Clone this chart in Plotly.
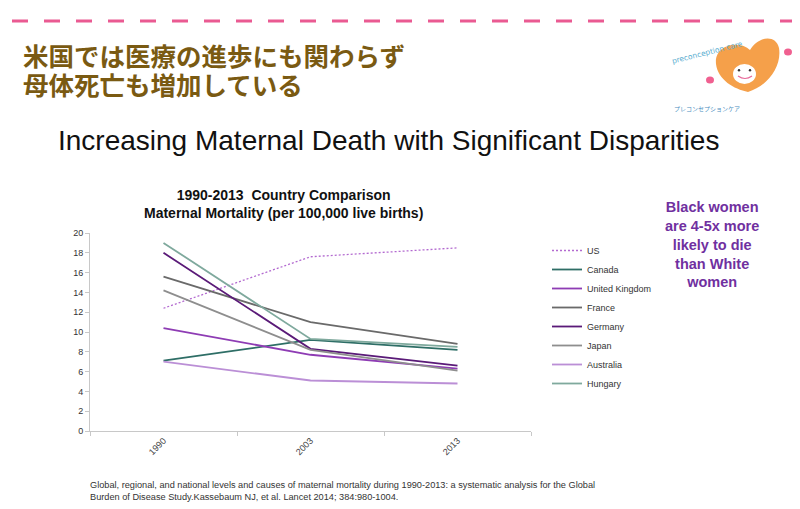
import plotly.graph_objects as go

years = ["1990", "2003", "2013"]
countries = ["US", "Canada", "United Kingdom", "France", "Germany", "Japan", "Australia", "Hungary"]
us = [12.4, 17.6, 18.5]
canada = [7.1, 9.2, 8.2]
uk = [10.4, 7.7, 6.3]
france = [15.6, 11.0, 8.8]
germany = [18.0, 8.3, 6.6]
japan = [14.2, 8.2, 6.1]
australia = [7.0, 5.1, 4.8]
hungary = [19.0, 9.3, 8.5]
series = [us, canada, uk, france, germany, japan, australia, hungary]
colors = ["#b36ad0", "#2e6e66", "#8e3cb4", "#6a6a6a", "#5a1a78", "#8e8e8e", "#bb8fd6", "#7fa99d"]
dashes = ["2px,2px", "solid", "solid", "solid", "solid", "solid", "solid", "solid"]
y_ticks = list(range(0, 21, 2))
jp_title = ["米国では医療の進歩にも関わらず", "母体死亡も増加している"]

W, H = 800, 509
PL, PR, PT, PB = 90, 531, 233, 431


def px(x):
    return (x - PL) / (PR - PL)


def py(y):
    return (PB - y) / (PB - PT)


fig = go.Figure()
for name, vals, col, dash in zip(countries, series, colors, dashes):
    fig.add_trace(go.Scatter(
        x=years, y=vals, name=name, mode="lines",
        line=dict(color=col, width=1.3 if dash != "solid" else 1.8, dash=dash),
        legendgroup=name,
    ))

shapes = []
# pink dashed header line
shapes.append(dict(type="line", xref="paper", yref="paper",
                   x0=px(12), x1=px(792), y0=py(21), y1=py(21),
                   line=dict(color="#ea5a92", width=3, dash="16px,16px")))


def path_from(points):
    out = "M {},{} ".format(px(points[0][0]), py(points[0][1]))
    for i in range(1, len(points), 3):
        a, b, c = points[i], points[i + 1], points[i + 2]
        out += "C {},{} {},{} {},{} ".format(px(a[0]), py(a[1]), px(b[0]), py(b[1]), px(c[0]), py(c[1]))
    return out + "Z"


heart = [(750, 50),
         (740, 40), (714, 44), (716, 64),
         (718, 80), (734, 89), (748, 92),
         (768, 86), (782, 66), (779, 48),
         (776, 34), (758, 36), (750, 50)]
shapes.append(dict(type="path", xref="paper", yref="paper", path=path_from(heart),
                   fillcolor="#f5a04a", line=dict(width=0)))
shapes.append(dict(type="circle", xref="paper", yref="paper",
                   x0=px(733), x1=px(756), y0=py(84), y1=py(64),
                   fillcolor="white", line=dict(width=0)))
for cx in (739, 750):
    shapes.append(dict(type="circle", xref="paper", yref="paper",
                       x0=px(cx - 1.2), x1=px(cx + 1.2), y0=py(71.5), y1=py(69),
                       fillcolor="#333", line=dict(width=0)))
shapes.append(dict(type="path", xref="paper", yref="paper",
                   path="M {},{} Q {},{} {},{}".format(px(738), py(76), px(745), py(81), px(752), py(76)),
                   line=dict(color="#e86a9a", width=1.2)))
for cx, cy in ((710, 80), (788, 52)):
    shapes.append(dict(type="circle", xref="paper", yref="paper",
                       x0=px(cx - 4), x1=px(cx + 4), y0=py(cy + 3.5), y1=py(cy - 3.5),
                       fillcolor="#f06090", line=dict(width=0)))

annotations = []
for line_txt, cy in zip(jp_title, (54, 83)):
    annotations.append(dict(text=line_txt,
                            xref="paper", yref="paper", x=px(21), y=py(cy),
                            xanchor="left", yanchor="middle", align="left", showarrow=False,
                            font=dict(family="Noto Sans CJK JP", size=25.5, color="#7a5a12", weight="bold")))
annotations.append(dict(text="preconception care", xref="paper", yref="paper",
                        x=px(746), y=py(37), showarrow=False, textangle=-14,
                        font=dict(family="DejaVu Sans", size=7.5, color="#5aaed0")))
annotations.append(dict(text="プレコンセプションケア", xref="paper", yref="paper",
                        x=px(742), y=py(102), showarrow=False,
                        font=dict(family="Noto Sans CJK JP", size=6, color="#4a8ec0")))
annotations.append(dict(text="Increasing Maternal Death with Significant Disparities",
                        xref="paper", yref="paper", x=px(388), y=py(140),
                        xanchor="center", yanchor="middle", showarrow=False,
                        font=dict(family="Liberation Sans", size=28, color="#111")))
annotations.append(dict(text="<b>1990-2013  Country Comparison<br>Maternal Mortality (per 100,000 live births)</b>",
                        xref="paper", yref="paper", x=px(283), y=py(204),
                        xanchor="center", yanchor="middle", showarrow=False,
                        font=dict(family="Liberation Sans", size=14, color="#111")))
annotations.append(dict(text="<b>Black women<br>are 4-5x more<br>likely to die<br>than White<br>women</b>",
                        xref="paper", yref="paper", x=px(712), y=py(244),
                        xanchor="center", yanchor="middle", showarrow=False,
                        font=dict(family="Liberation Sans", size=14.5, color="#7030a0")))
annotations.append(dict(text="Global, regional, and national levels and causes of maternal mortality during 1990-2013: a systematic analysis for the Global<br>Burden of Disease Study.Kassebaum NJ, et al. Lancet 2014; 384:980-1004.",
                        xref="paper", yref="paper", x=px(88), y=py(491),
                        xanchor="left", yanchor="middle", align="left", showarrow=False,
                        font=dict(family="Liberation Sans", size=9.2, color="#333")))

fig.update_layout(
    width=W, height=H, autosize=False,
    margin=dict(l=PL, r=W - PR, t=PT, b=H - PB, pad=0),
    paper_bgcolor="white", plot_bgcolor="white",
    showlegend=True,
    legend=dict(x=px(547), y=py(236), xanchor="left", yanchor="top",
                font=dict(family="Liberation Sans", size=9, color="#333"),
                tracegroupgap=0, bgcolor="rgba(0,0,0,0)", itemwidth=30),
    shapes=shapes, annotations=annotations,
    xaxis=dict(type="category", range=[-0.5, 2.5], tickson="boundaries",
               ticks="outside", ticklen=4, tickcolor="#c8c8c8",
               showline=True, linecolor="#c8c8c8", linewidth=1, showgrid=False,
               tickangle=-45, tickfont=dict(family="Liberation Sans", size=9, color="#444")),
    yaxis=dict(range=[0, 20], tickvals=y_ticks, ticks="outside", ticklen=4, tickcolor="#c8c8c8",
               showline=True, linecolor="#c8c8c8", linewidth=1, showgrid=False, zeroline=False,
               tickfont=dict(family="Liberation Sans", size=9, color="#333")),
)

fig.write_html("out.html", config={"displayModeBar": False},
               post_script="document.body.style.margin='0px';")
